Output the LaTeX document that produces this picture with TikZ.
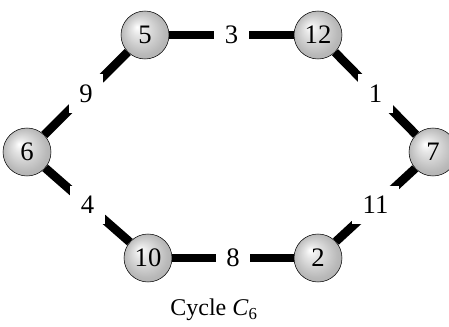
\documentclass[tikz,border=0pt]{standalone}
\usepackage{fontspec}
\setmainfont{Liberation Serif}
\usepackage{tikz}
\usetikzlibrary{positioning}

\pgfdeclareradialshading{sphere}{\pgfpoint{-0.3cm}{0.3cm}}{%
  color(0cm)=(white); color(0.25cm)=(gray!20); color(0.8cm)=(gray!55); color(1.1cm)=(gray!65)}

\begin{document}
\begin{tikzpicture}[
        x=0.75pt, y=-0.75pt,
        vertex/.style={circle, draw, thin, shading=sphere, minimum size=36pt, inner sep=0pt, font=\fontsize{20}{23}\selectfont},
        edge/.style={line width=6.5pt},
        weight/.style={fill=white, inner sep=8pt, font=\fontsize{20}{23}\selectfont}
    ]
    \useasboundingbox (0,0) rectangle (449,327);

    \node (v5) [vertex] at (145,35) {5};
    \node (v12) [vertex] at (318,35) {12};
    \node (v6) [vertex] at (27,152) {6};
    \node (v7) [vertex] at (433,152) {7};
    \node (v10) [vertex] at (148,258) {10};
    \node (v2) [vertex] at (318,258) {2};

    \draw[edge] (v5) -- node[weight] {3} (v12);
    \draw[edge] (v12) -- node[weight] {1} (v7);
    \draw[edge] (v7) -- node[weight] {11} (v2);
    \draw[edge] (v2) -- node[weight] {8} (v10);
    \draw[edge] (v10) -- node[weight] {4} (v6);
    \draw[edge] (v6) -- node[weight] {9} (v5);

    \node (caption) at (214,310) [font=\fontsize{18}{21}\selectfont] {Cycle \textit{C}\textsubscript{6}};

\end{tikzpicture}
\end{document}
